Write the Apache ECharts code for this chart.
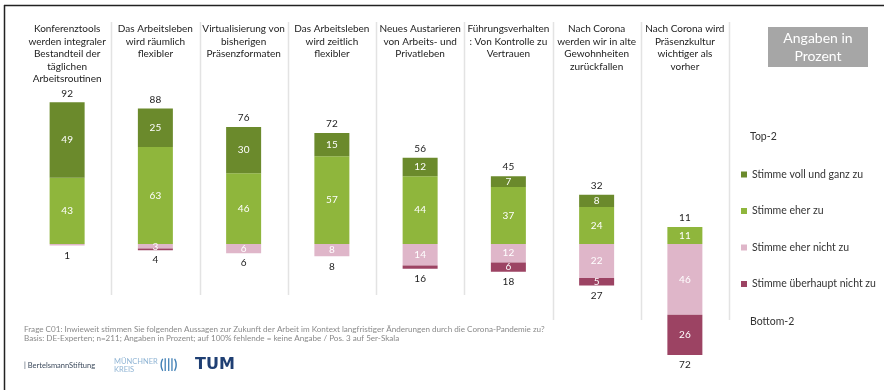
<!DOCTYPE html>
<html>
<head>
<meta charset="utf-8">
<title>Zukunft der Arbeit</title>
<script src="https://cdn.jsdelivr.net/npm/echarts@6/dist/echarts.min.js"></script>
<style>
    html, body {margin: 0; padding: 0; background: #fff;}
    #main {width: 884px; height: 390px;}
</style>
</head>
<body>
<div id="main"></div>
<script>
// Aussagen (Kategorien)
var categories = [
    'Konferenztools\nwerden integraler\nBestandteil der\ntäglichen\nArbeitsroutinen',
    'Das Arbeitsleben\nwird räumlich\nflexibler',
    'Virtualisierung von\nbisherigen\nPräsenzformaten',
    'Das Arbeitsleben\nwird zeitlich\nflexibler',
    'Neues Austarieren\nvon Arbeits- und\nPrivatleben',
    'Führungsverhalten\n: Von Kontrolle zu\nVertrauen',
    'Nach Corona\nwerden wir in alte\nGewohnheiten\nzurückfallen',
    'Nach Corona wird\nPräsenzkultur\nwichtiger als\nvorher'
];
var seriesNames = ['Stimme voll und ganz zu', 'Stimme eher zu', 'Stimme eher nicht zu', 'Stimme überhaupt nicht zu'];
// Werte in Prozent
var vollUndGanz = [49, 25, 30, 15, 12, 7, 8, 0];
var eherZu = [43, 63, 46, 57, 44, 37, 24, 11];
var eherNicht = [1, 3, 6, 8, 14, 12, 22, 46];
var ueberhauptNicht = [0, 1, 0, 0, 2, 6, 5, 26];
var top2 = [92, 88, 76, 72, 56, 45, 32, 11];
var bottom2 = [1, 4, 6, 8, 16, 18, 27, 72];

var colors = ['#6b8a2c', '#8fb63c', '#dfb6c9', '#9c4363'];
var fontName = 'Lato, "Open Sans", sans-serif';

function neg(arr) {
    return arr.map(function (v) {
        return v === 0 ? 0 : -v;
    });
}

var innerLabel = {
    show: true,
    position: 'inside',
    color: '#fff',
    fontSize: 10,
    fontFamily: fontName,
    formatter: function (p) {
        var v = Math.abs(p.value);
        return v >= 3 ? String(v) : '';
    }
};

function barSeries(name, data, color) {
    return {
        name: name,
        type: 'bar',
        stack: 'all',
        barWidth: 35,
        data: data,
        itemStyle: {color: color},
        label: innerLabel,
        emphasis: {disabled: true}
    };
}

var chart = echarts.init(document.getElementById('main'));
var option = {
    animation: false,
    textStyle: {fontFamily: fontName},
    grid: {
        left: 23,
        top: 20.7,
        width: 706,
        height: 361.9,
        outerBoundsMode: 'none'
    },
    legend: {
        data: seriesNames,
        orient: 'vertical',
        left: 736,
        top: 164,
        itemWidth: 6,
        itemHeight: 6,
        itemGap: 25.5,
        icon: 'rect',
        selectedMode: false,
        textStyle: {fontSize: 10.5, color: '#333', fontFamily: fontName}
    },
    xAxis: {
        type: 'category',
        position: 'top',
        data: categories,
        axisLine: {show: false},
        axisTick: {show: false},
        splitLine: {show: false},
        axisLabel: {
            interval: 0,
            margin: -2,
            verticalAlign: 'top',
            align: 'center',
            fontSize: 10,
            lineHeight: 12.5,
            color: '#222',
            fontFamily: fontName
        }
    },
    yAxis: {
        type: 'value',
        min: -90,
        max: 145,
        show: false
    },
    series: [
        barSeries(seriesNames[1], eherZu, colors[1]),
        barSeries(seriesNames[0], vollUndGanz, colors[0]),
        // Summe Top-2 ueber dem Balken
        {
            name: 'Top-2',
            type: 'bar',
            stack: 'all',
            barWidth: 35,
            data: top2.map(function () { return 0; }),
            label: {
                show: true,
                position: 'top',
                distance: 4,
                color: '#222',
                fontSize: 10,
                fontFamily: fontName,
                formatter: function (p) { return String(top2[p.dataIndex]); }
            }
        },
        barSeries(seriesNames[2], neg(eherNicht), colors[2]),
        barSeries(seriesNames[3], neg(ueberhauptNicht), colors[3]),
        // Summe Bottom-2 unter dem Balken
        {
            name: 'Bottom-2',
            type: 'bar',
            stack: 'all',
            barWidth: 35,
            data: bottom2.map(function () { return 0; }),
            label: {
                show: true,
                position: 'bottom',
                distance: 5,
                color: '#222',
                fontSize: 10,
                fontFamily: fontName,
                formatter: function (p) { return String(bottom2[p.dataIndex]); }
            }
        }
    ]
};
chart.setOption(option);

// Trennlinien zwischen den Spalten
var c0 = chart.convertToPixel({xAxisIndex: 0}, 0);
var c1 = chart.convertToPixel({xAxisIndex: 0}, 1);
var band = c1 - c0;
var elements = [];
for (var i = 0; i < categories.length; i++) {
    var x = Math.round(c0 + band * i + band / 2) + 0.5;
    elements.push({
        type: 'line',
        shape: {x1: x, y1: 22, x2: x, y2: i < 5 ? 295 : 320},
        style: {stroke: '#e3e3e3', lineWidth: 1.5},
        silent: true
    });
}

// Rahmen oben und links
elements.push({
    type: 'line',
    shape: {x1: 4, y1: 5.5, x2: 884, y2: 5.5},
    style: {stroke: '#222', lineWidth: 1.5}
});
elements.push({
    type: 'line',
    shape: {x1: 4.5, y1: 5, x2: 4.5, y2: 390},
    style: {stroke: '#222', lineWidth: 1.5}
});

// Kasten "Angaben in Prozent"
elements.push({
    type: 'group',
    left: 768,
    top: 27,
    children: [
        {type: 'rect', shape: {x: 0, y: 0, width: 100, height: 40}, style: {fill: '#a6a6a6'}},
        {
            type: 'text',
            x: 50, y: 20,
            style: {
                text: 'Angaben in\nProzent',
                fill: '#fff',
                fontSize: 14,
                lineHeight: 18,
                fontFamily: fontName,
                align: 'center',
                verticalAlign: 'middle'
            }
        }
    ]
});

// Top-2 / Bottom-2 in der Legende
elements.push({
    type: 'text', x: 750, y: 137,
    style: {text: 'Top-2', fill: '#333', fontSize: 10.5, fontFamily: fontName, verticalAlign: 'middle'}
});
elements.push({
    type: 'text', x: 750, y: 322,
    style: {text: 'Bottom-2', fill: '#333', fontSize: 10.5, fontFamily: fontName, verticalAlign: 'middle'}
});

// Fussnote
elements.push({
    type: 'text', x: 24, y: 325,
    style: {
        text: 'Frage C01: Inwieweit stimmen Sie folgenden Aussagen zur Zukunft der Arbeit im Kontext langfristiger Änderungen durch die Corona-Pandemie zu?\n' +
            'Basis: DE-Experten; n=211; Angaben in Prozent; auf 100% fehlende = keine Angabe / Pos. 3 auf 5er-Skala',
        fill: '#8a8a8a',
        fontSize: 8.1,
        lineHeight: 9,
        fontFamily: fontName
    }
});

// Logos als Text
elements.push({
    type: 'text', x: 24, y: 362,
    style: {text: '| BertelsmannStiftung', fill: '#3c4a5c', fontSize: 7.5, fontFamily: fontName}
});
elements.push({
    type: 'text', x: 114, y: 357,
    style: {text: 'MÜNCHNER\nKREIS', fill: '#8fb4d4', fontSize: 7.5, lineHeight: 8.5, fontFamily: fontName}
});
elements.push({
    type: 'text', x: 160, y: 358,
    style: {text: '(|||)', fill: '#3f7fb5', fontSize: 13, fontWeight: 'bold', fontFamily: fontName}
});
elements.push({
    type: 'text', x: 195, y: 357,
    style: {text: 'TUM', fill: '#1f3f73', fontSize: 16, fontWeight: 'bold', fontFamily: 'DejaVu Sans'}
});

chart.setOption({graphic: {elements: elements}});

window.onresize = chart.resize;
</script>
</body>
</html>
